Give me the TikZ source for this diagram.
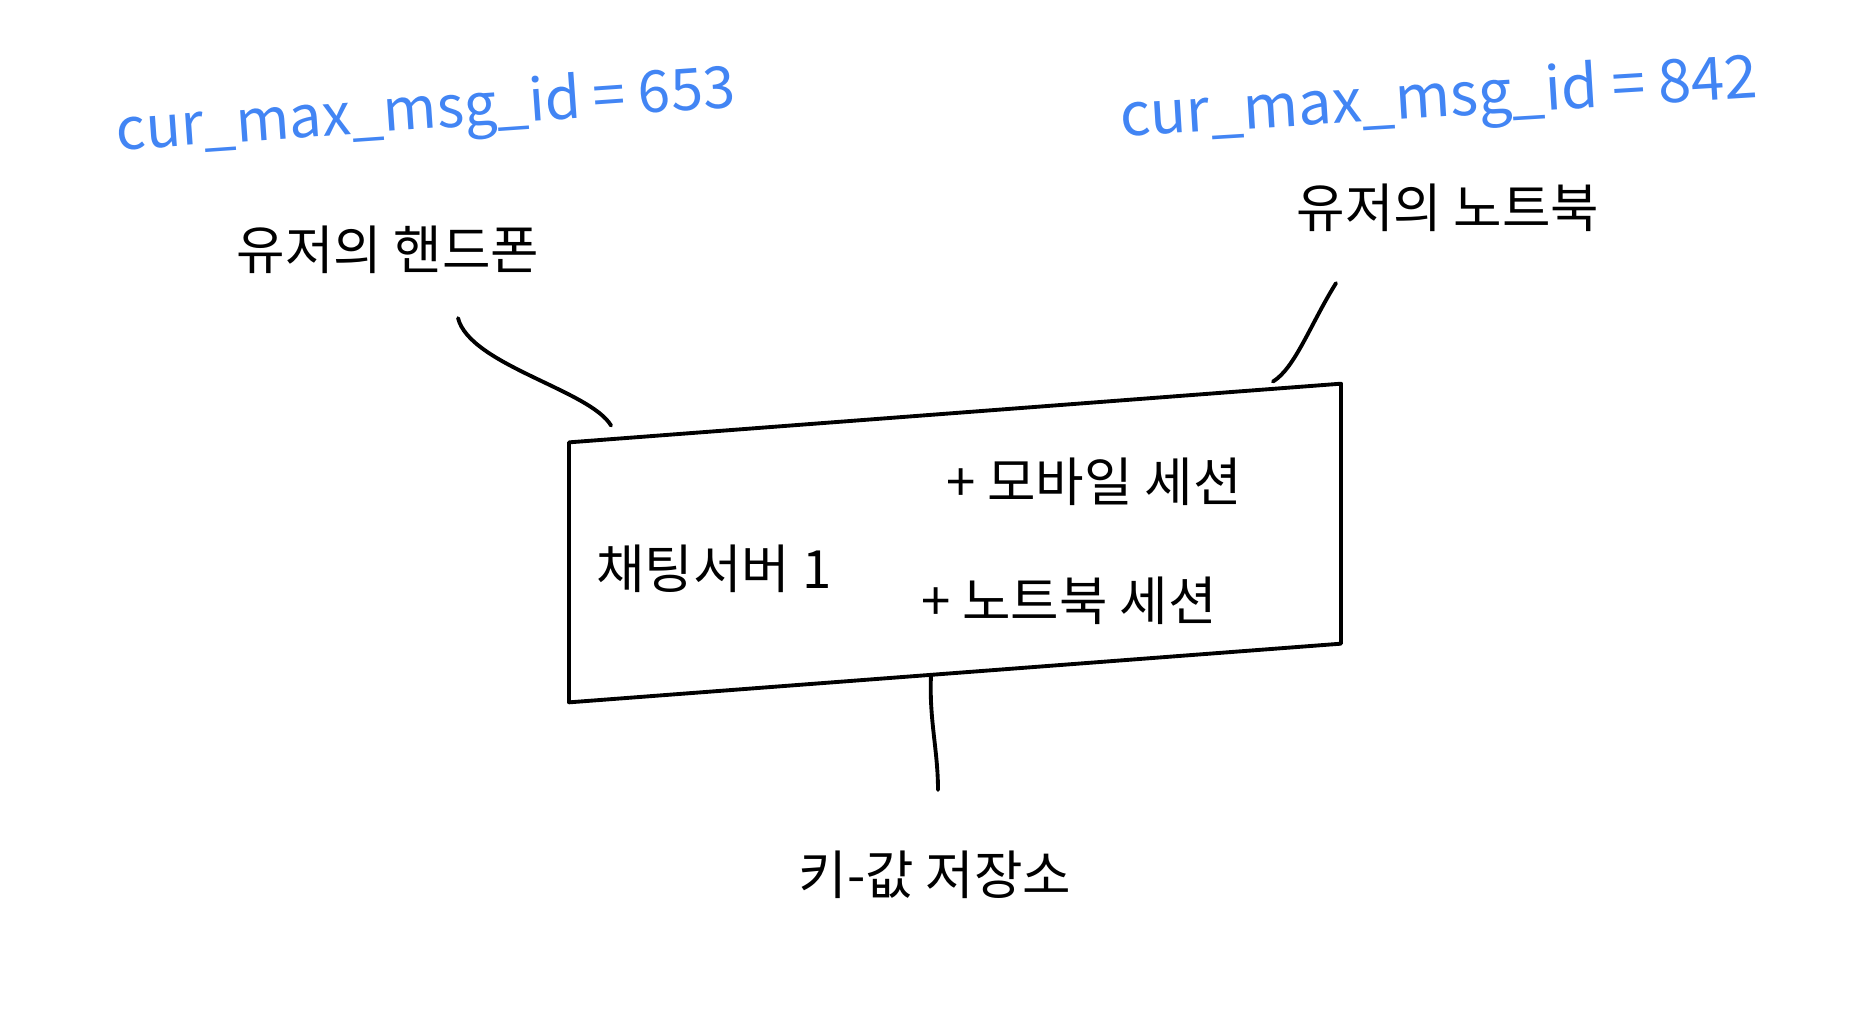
\documentclass[tikz,border=0pt]{standalone}
\usepackage{fontspec}
\setmainfont{Noto Sans CJK KR}
\usetikzlibrary{positioning}
\usepackage{xcolor}
\definecolor{penblue}{RGB}{66,133,244}

\begin{document}
\begin{tikzpicture}[x=0.1mm, y=-0.1mm,
    hand/.style={font=\fontsize{15}{18}\selectfont, inner sep=1pt},
    idtag/.style={text=penblue, font=\fontsize{16.5}{20}\selectfont, inner sep=1pt},
    stroke/.style={line width=1.1pt, line cap=round, line join=round}]
  \useasboundingbox (0,0) rectangle (1866,1034);

  % device labels and their counters
  \node[idtag, rotate=4] (phoneid) at (426,113) {cur\_max\_msg\_id = 653};
  \node[idtag, rotate=3.5, font=\fontsize{17}{20}\selectfont] (laptopid) at (1439,101) {cur\_max\_msg\_id = 842};
  \node[hand] (phone) at (388,250) {유저의 핸드폰};
  \node[hand] (laptop) at (1448,208) {유저의 노트북};

  % chat server box
  \node[draw, stroke, yslant=0.076, minimum width=77.2mm, minimum height=26mm] (srv) at (955,543) {};
  \node[hand] (srvname) at (714,569) {채팅서버 1};
  \node[hand] (mobsess) at (1094,482) {+ 모바일 세션};
  \node[hand] (lapsess) at (1069,601) {+ 노트북 세션};

  \node[hand] (kv) at (935,875) {키-값 저장소};

  % connectors
  \draw[stroke] ([shift={(70,40)}]phone.south) .. controls (470,365) and (590,390) .. ([shift={(44,-15)}]srv.north west);
  \draw[stroke] ([shift={(-112,47)}]laptop.south) .. controls (1310,325) and (1295,368) .. ([shift={(-70,0)}]srv.north east);
  \draw[stroke] ([xshift=-2.4mm]srv.south) .. controls (929,720) and (938,750) .. ([shift={(3,-57)}]kv.north);
\end{tikzpicture}
\end{document}
